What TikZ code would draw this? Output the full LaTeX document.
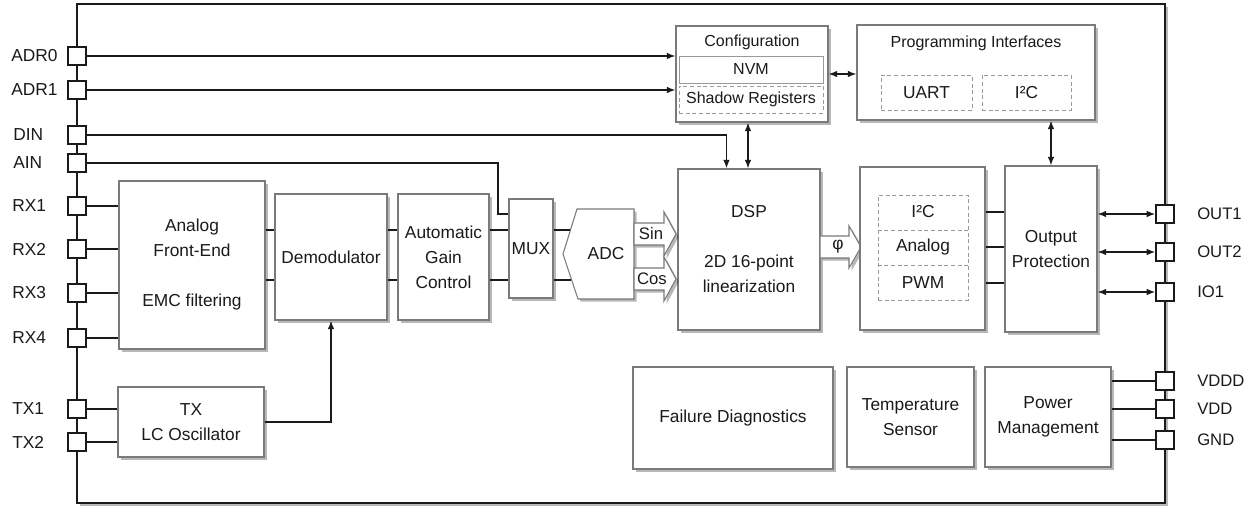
\documentclass[tikz,border=0pt]{standalone}
\usepackage{fontspec}
\setmainfont{Liberation Sans}
\usetikzlibrary{arrows.meta,shadows,calc}
\definecolor{ln}{HTML}{1A1A1A}
\definecolor{bd}{HTML}{7A7A7A}
\definecolor{dsh}{HTML}{999999}
\newcommand\bx[7][]{\node[#1, minimum width={(#4-#2)*0.75pt}, minimum height={(#5-#3)*0.75pt}] (#6) at ({(#2+#4)/2},{(#3+#5)/2}) {#7};}
\begin{document}
\begin{tikzpicture}[x=0.75pt,y=-0.75pt,
  every node/.style={font=\fontsize{13}{18.75}\selectfont, text=ln},
  shd/.style={drop shadow={shadow xshift=2pt, shadow yshift=-2pt, fill=black, opacity=0.28}},
  blk/.style={draw=bd, fill=white, line width=0.8pt, inner sep=0pt, align=center, shd},
  sub/.style={draw=dsh, fill=white, line width=0.6pt, inner sep=0pt, align=center},
  dsub/.style={sub, dashed, dash pattern=on 3pt off 2pt},
  pinbox/.style={draw=ln, fill=white, line width=1pt, minimum size=13.5pt, inner sep=0pt},
  lbl/.style={anchor=west, inner sep=0pt},
  rlbl/.style={anchor=west, inner sep=0pt, font=\fontsize{12.5}{15}\selectfont},
  small/.style={font=\fontsize{12}{15}\selectfont},
  cn/.style={draw=ln, line width=1.1pt},
  arr/.style={cn, -{Latex[length=6.5pt,width=5pt]}},
  darr/.style={cn, {Latex[length=6.5pt,width=5pt]}-{Latex[length=6.5pt,width=5pt]}},
  hollow/.style={draw=bd, fill=white, line width=0.8pt, line join=miter, shd}
]
\useasboundingbox (0,0) rectangle (1256,516);

% chip outline
\bx[draw=ln, line width=1.6pt, fill=white, inner sep=0pt, shd]{77}{4}{1165}{503}{chip}{}

% blocks
\bx[blk]{119}{181}{265}{349}{afe}{Analog\\Front-End\\[18.75pt]EMC filtering}
\bx[blk]{275}{194}{387}{320}{demod}{Demodulator}
\bx[blk]{398}{194}{489}{320}{agc}{Automatic\\Gain\\Control}
\bx[blk]{509}{199}{553}{298}{mux}{MUX}
\bx[blk]{118}{387}{264}{457}{tx}{TX\\LC Oscillator}
\bx[blk]{678}{169}{820}{330}{dsp}{DSP\\[18.75pt]2D 16-point\\linearization}

% ADC
\coordinate (adcT) at (577,209);
\coordinate (adcR1) at (634,209);
\coordinate (adcR2) at (634,299);
\coordinate (adcB) at (578,299);
\coordinate (adcL) at (563,254);
\draw[hollow] (adcT) -- (adcR1) -- (adcR2) -- (adcB) -- (adcL) -- cycle;
\node (adc) at (606,254) {ADC};
\coordinate (adcin1) at (570,230);
\coordinate (adcin2) at (571,280);

% hollow arrows
\draw[hollow] (634,223) -- (664,223) -- (664,212) -- (676,234) -- (664,256) -- (664,245) -- (634,245) -- cycle;
\draw[hollow] (634,268) -- (664,268) -- (664,257) -- (676,279) -- (664,301) -- (664,290) -- (634,290) -- cycle;
\draw[hollow] (820,236) -- (849,236) -- (849,226) -- (861,247) -- (849,268) -- (849,258) -- (820,258) -- cycle;
\node[font=\fontsize{12.5}{15}\selectfont] (sin) at (651,234) {Sin};
\node[font=\fontsize{12.5}{15}\selectfont] (cos) at (652,279) {Cos};
\node (phi) at (838,247) {φ};

% configuration
\bx[blk]{676}{26}{828}{122}{cfg}{}
\node[small] (cfgt) at (752,42) {Configuration};
\bx[sub, small]{679}{56}{823}{83}{nvm}{NVM}
\bx[dsub, small]{679}{86}{823}{113}{shreg}{Shadow Registers}

% programming interfaces
\bx[blk]{857}{25}{1095}{120}{pi}{}
\node[small] (pit) at (976,43) {Programming Interfaces};
\bx[dsub]{881}{75}{972}{110}{uart}{UART}
\bx[dsub]{982}{75}{1071}{110}{pii2c}{I²C}

% output interface
\bx[blk]{860}{167}{985}{330}{outif}{}
\bx[dsub]{878}{195}{968}{300}{outin}{}
\draw[draw=dsh, line width=0.6pt, dash pattern=on 3pt off 2pt] (outin.west |- 0,230) -- (outin.east |- 0,230);
\draw[draw=dsh, line width=0.6pt, dash pattern=on 3pt off 2pt] (outin.west |- 0,265) -- (outin.east |- 0,265);
\node (oi2c) at (923,212) {I²C};
\node (oana) at (923,247) {Analog};
\node (opwm) at (923,283) {PWM};

\bx[blk]{1005}{166}{1097}{332}{op}{Output\\Protection}

% bottom blocks
\bx[blk]{633}{367}{833}{469}{fd}{Failure Diagnostics}
\bx[blk]{847}{367}{974}{467}{ts}{Temperature\\Sensor}
\bx[blk]{985}{367}{1111}{467}{pm}{Power\\Management}

% pins left
\node[pinbox] (adr0) at (77,56) {};
\node[pinbox] (adr1) at (77,90) {};
\node[pinbox] (din) at (77,135) {};
\node[pinbox] (ain) at (77,163) {};
\node[pinbox] (rx1) at (77,206) {};
\node[pinbox] (rx2) at (77,249) {};
\node[pinbox] (rx3) at (77,293) {};
\node[pinbox] (rx4) at (77,338) {};
\node[pinbox] (tx1) at (77,409) {};
\node[pinbox] (tx2) at (77,442) {};
\node[lbl] (ladr0) at (11,56) {ADR0};
\node[lbl] (ladr1) at (11,90) {ADR1};
\node[lbl] (ldin) at (13,135) {DIN};
\node[lbl] (lain) at (13,163) {AIN};
\node[lbl] (lrx1) at (12,206) {RX1};
\node[lbl] (lrx2) at (12,249) {RX2};
\node[lbl] (lrx3) at (12,293) {RX3};
\node[lbl] (lrx4) at (12,338) {RX4};
\node[lbl] (ltx1) at (12,409) {TX1};
\node[lbl] (ltx2) at (12,442) {TX2};

% pins right
\node[pinbox] (out1) at (1165,214) {};
\node[pinbox] (out2) at (1165,252) {};
\node[pinbox] (io1) at (1165,292) {};
\node[pinbox] (vddd) at (1165,381) {};
\node[pinbox] (vdd) at (1165,409) {};
\node[pinbox] (gnd) at (1165,440) {};
\node[rlbl] (lout1) at (1197,214) {OUT1};
\node[rlbl] (lout2) at (1197,252) {OUT2};
\node[rlbl] (lio1) at (1197,292) {IO1};
\node[rlbl] (lvddd) at (1197,381) {VDDD};
\node[rlbl] (lvdd) at (1197,409) {VDD};
\node[rlbl] (lgnd) at (1197,440) {GND};

% connectors
\coordinate (ya) at (0,230);
\coordinate (yb) at (0,280);
\foreach \p in {rx1,rx2,rx3,rx4} \draw[cn] (\p.east) -- (\p.east -| afe.west);
\foreach \p in {tx1,tx2} \draw[cn] (\p.east) -- (\p.east -| tx.west);
\foreach \a/\b in {afe/demod,demod/agc,agc/mux} {
  \draw[cn] (\a.east |- ya) -- (\b.west |- ya);
  \draw[cn] (\a.east |- yb) -- (\b.west |- yb);
}
\draw[cn] (mux.east |- adcin1) -- (adcin1);
\draw[cn] (mux.east |- adcin2) -- (adcin2);
\draw[arr] (tx.east) -| (demod.south);

\draw[arr] (adr0.east) -- (adr0.east -| cfg.west);
\draw[arr] (adr1.east) -- (adr1.east -| cfg.west);
\coordinate (dinx) at ($(dsp.north west)+(49,0)$);
\draw[arr] (din.east) -| (dinx);
\coordinate (ainbend) at (498,214);
\draw[cn] (ain.east) -| (ainbend) -- (ainbend -| mux.west);
\coordinate (cfgx) at ($(cfg.south)+(-4,0)$);
\draw[darr] (cfgx) -- (cfgx |- dsp.north);
\draw[darr] (cfg.east) -- (cfg.east -| pi.west);
\draw[darr] (pi.south -| op.north) -- (op.north);

\foreach \t in {oi2c,oana,opwm} \draw[cn] (\t -| outif.east) -- (\t -| op.west);
\foreach \p in {out1,out2,io1} \draw[darr] (\p.west -| op.east) -- (\p.west);
\foreach \p in {vddd,vdd,gnd} \draw[cn] (\p.west -| pm.east) -- (\p.west);
\end{tikzpicture}
\end{document}
